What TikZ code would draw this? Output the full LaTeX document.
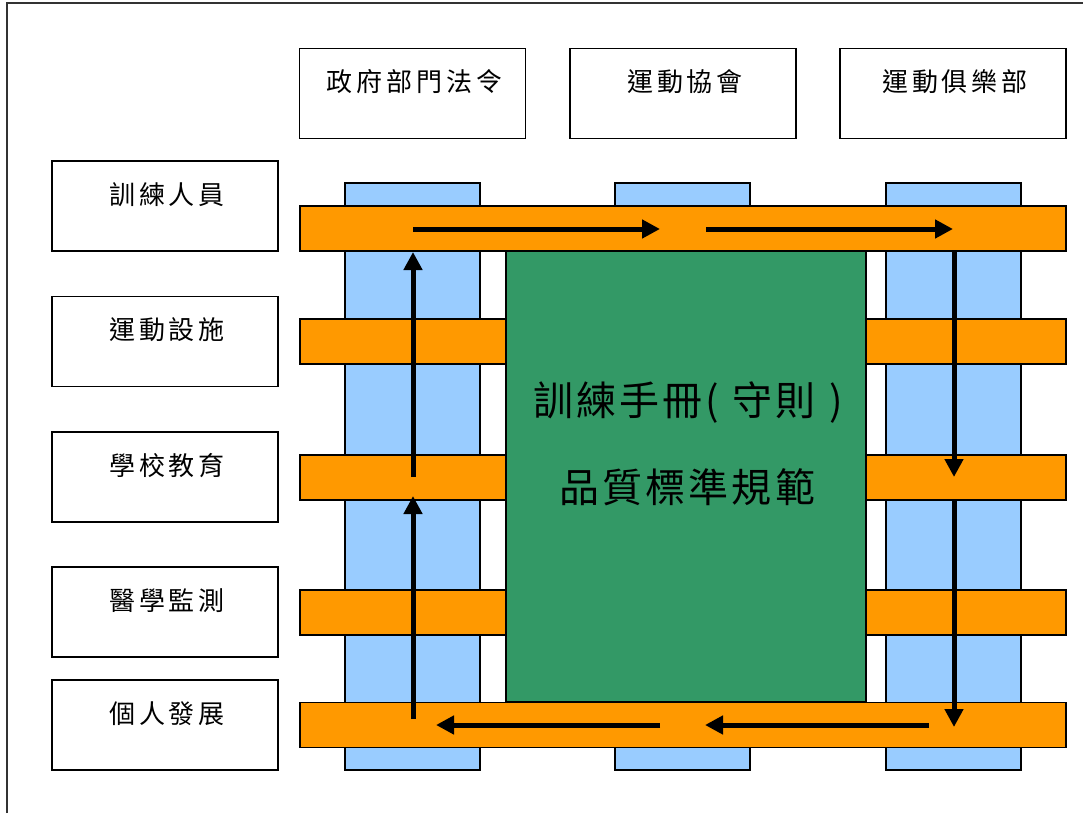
\documentclass[tikz,border=0pt]{standalone}
\usepackage{fontspec}
\newfontfamily\cjk[LetterSpace=15]{Noto Sans CJK TC}
\newfontfamily\cjkbig[LetterSpace=8]{Noto Sans CJK TC}
\usetikzlibrary{arrows.meta}
\definecolor{colblue}{HTML}{99CCFF}
\definecolor{barorange}{HTML}{FF9900}
\definecolor{coregreen}{HTML}{339966}
\tikzset{
  labelbox/.style={draw=black, line width=1.4pt, fill=white, minimum width=226pt, minimum height=90pt, inner sep=0pt},
  boxtext/.style={anchor=base, inner sep=0pt, font=\cjk\fontsize{26pt}{30pt}\selectfont},
  column/.style={draw=black, line width=1.3pt, fill=colblue, minimum width=135pt, minimum height=587pt, inner sep=0pt},
  crossbar/.style={draw=black, line width=1.3pt, fill=barorange, minimum width=766pt, minimum height=45pt, inner sep=0pt},
  core/.style={draw=black, line width=1.3pt, fill=coregreen, minimum width=360pt, minimum height=451pt, inner sep=0pt},
  coretext/.style={anchor=base, inner sep=0pt, font=\cjkbig\fontsize{40pt}{46pt}\selectfont},
  flow/.style={line width=5pt, -{Triangle[length=18pt,width=18pt]}}
}
\begin{document}
\begin{tikzpicture}[x=1pt,y=-1pt]
\useasboundingbox (0,0) rectangle (1083,813);
% outer frame (cropped)
\draw[line width=1.5pt, black!80] (7,813) -- (7,3) -- (1083,3);

% top boxes
\node[labelbox] (gov) at (412.5,93.5) {};
\node[labelbox] (assoc) at (683,93.5) {};
\node[labelbox] (club) at (953,93.5) {};
\node[boxtext] (govt) at ([xshift=2pt,yshift=-44pt]gov.north) {政府部門法令};
\node[boxtext] (assoct) at ([xshift=2pt,yshift=-44pt]assoc.north) {運動協會};
\node[boxtext] (clubt) at ([xshift=2pt,yshift=-44pt]club.north) {運動俱樂部};

% left boxes
\node[labelbox] (coach) at (165,206) {};
\node[labelbox] (facil) at (165,341.5) {};
\node[labelbox] (school) at (165,477) {};
\node[labelbox] (medic) at (165,612) {};
\node[labelbox] (person) at (165,725) {};
\node[boxtext] (coacht) at ([xshift=2pt,yshift=-44pt]coach.north) {訓練人員};
\node[boxtext] (facilt) at ([xshift=2pt,yshift=-44pt]facil.north) {運動設施};
\node[boxtext] (schoolt) at ([xshift=2pt,yshift=-44pt]school.north) {學校教育};
\node[boxtext] (medict) at ([xshift=2pt,yshift=-44pt]medic.north) {醫學監測};
\node[boxtext] (persont) at ([xshift=2pt,yshift=-44pt]person.north) {個人發展};

% blue columns
\node[column] (c1) at (412.5,476.5) {};
\node[column] (c2) at (682.5,476.5) {};
\node[column] (c3) at (953.5,476.5) {};

% orange bars
\node[crossbar] (b1) at (683,228.5) {};
\node[crossbar] (b2) at (683,341.5) {};
\node[crossbar] (b3) at (683,477.5) {};
\node[crossbar] (b4) at (683,612.5) {};
\node[crossbar] (b5) at (683,725) {};

% green core
\node[core] (core) at (686,476.5) {};
\node[coretext] (l1) at (688,415) {訓練手冊(\,\,守則\,\,)};
\node[coretext] (l2) at (687,502) {品質標準規範};

% flow arrows
\coordinate (a1s) at (413,719);
\coordinate (a1e) at (413,496);
\coordinate (a2s) at (413,477);
\coordinate (a2e) at (413,252);
\coordinate (a3s) at (413,229);
\coordinate (a3e) at (660,229);
\coordinate (a4s) at (706,229);
\coordinate (a4e) at (953,229);
\coordinate (a5s) at (954,252);
\coordinate (a5e) at (954,477);
\coordinate (a6s) at (954,500);
\coordinate (a6e) at (954,727);
\coordinate (a7s) at (929,725);
\coordinate (a7e) at (705,725);
\coordinate (a8s) at (660,725);
\coordinate (a8e) at (436,725);
\draw[flow] (a1s) -- (a1e);
\draw[flow] (a2s) -- (a2e);
\draw[flow] (a3s) -- (a3e);
\draw[flow] (a4s) -- (a4e);
\draw[flow] (a5s) -- (a5e);
\draw[flow] (a6s) -- (a6e);
\draw[flow] (a7s) -- (a7e);
\draw[flow] (a8s) -- (a8e);
\end{tikzpicture}
\end{document}
